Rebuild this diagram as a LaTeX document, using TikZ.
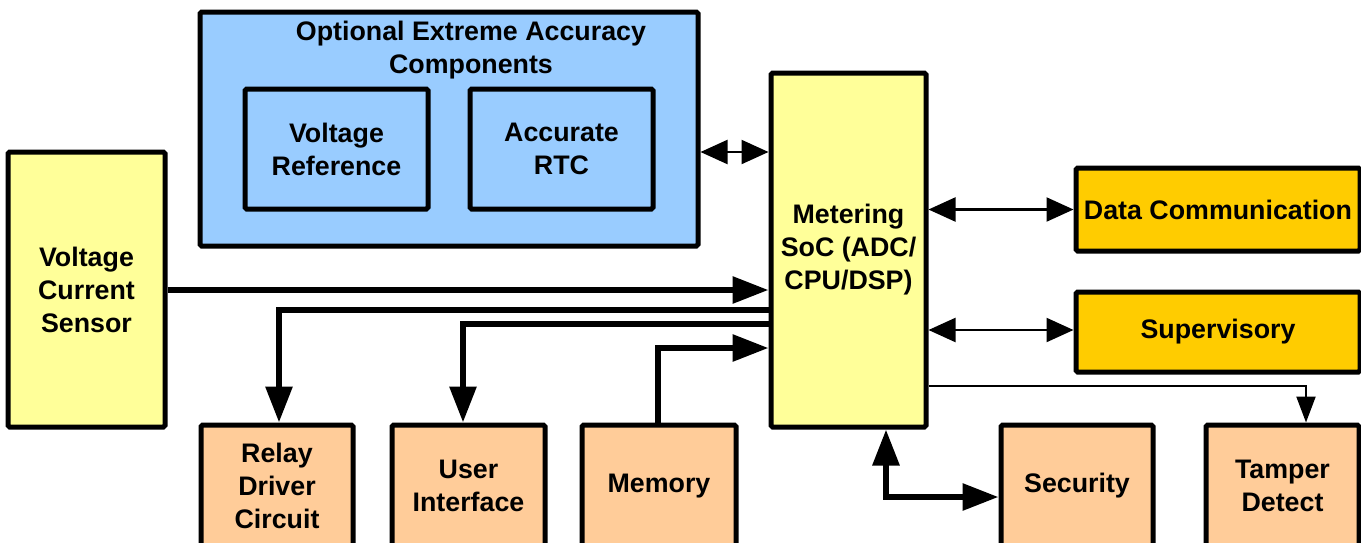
\documentclass[tikz,border=0pt]{standalone}
\usepackage{fontspec}
\setmainfont{Liberation Sans}
\usetikzlibrary{arrows.meta}
\definecolor{socyellow}{HTML}{FFFF99}
\definecolor{optblue}{HTML}{99CCFF}
\definecolor{commgold}{HTML}{FFCC00}
\definecolor{periph}{HTML}{FFCC99}
\begin{document}
\begin{tikzpicture}[x=0.5pt,y=-0.5pt,
  blk/.style={draw=black, line width=2.5pt, rounded corners=0.8pt, inner sep=1pt,
    align=center, font=\fontsize{13.4}{16.5}\selectfont\bfseries},
  bigtip/.style={line width=3pt, line join=miter},
  thinlink/.style={line width=1.1pt},
  headL/.tip={Triangle[length=18pt,width=13pt]},
  headM/.tip={Triangle[length=13.5pt,width=12pt]},
  headS/.tip={Triangle[length=13pt,width=9.5pt]}]
\clip (0,0) rectangle (1361,542);
% optional accuracy group
\node[blk, fill=optblue, minimum width=249pt, minimum height=117pt] (opt) at (449,129) {};
\node[font=\fontsize{13.4}{16.5}\selectfont\bfseries, align=center, inner sep=0pt] (optTitle) at (471,50.5)
  {Optional Extreme Accuracy\\Components};
\node[blk, fill=optblue, minimum width=91.5pt, minimum height=60pt] (vref) at (336.5,149) {Voltage\\Reference};
\node[blk, fill=optblue, minimum width=91.5pt, minimum height=60pt] (rtc) at (561.5,149) {Accurate\\RTC};
% main blocks
\node[blk, fill=socyellow, minimum width=78.5pt, minimum height=137.5pt] (sensor) at (86.5,289.5) {Voltage\\Current\\Sensor};
\node[blk, fill=socyellow, minimum width=77.5pt, minimum height=177pt] (soc) at (848.5,250) {Metering\\SoC (ADC/\\CPU/DSP)};
\node[blk, fill=commgold, minimum width=142pt, minimum height=41.5pt] (data) at (1218,209.5) {Data Communication};
\node[blk, fill=commgold, minimum width=142pt, minimum height=40pt] (sup) at (1218,332) {Supervisory};
% peripherals
\node[blk, fill=periph, minimum width=76pt, minimum height=61pt] (relay) at (277,486) {Relay\\Driver\\Circuit};
\node[blk, fill=periph, minimum width=76.5pt, minimum height=61pt] (ui) at (468.5,486) {User\\Interface};
\node[blk, fill=periph, minimum width=77pt, minimum height=61pt] (mem) at (659,486) {Memory};
\node[blk, fill=periph, minimum width=76pt, minimum height=61pt] (sec) at (1077,486) {Security};
\node[blk, fill=periph, minimum width=76.5pt, minimum height=61pt] (tamper) at (1282.5,486) {Tamper\\Detect};
% connectors
\draw[thinlink, headM-headM] (opt.east |- 0,152) -- (soc.west |- 0,152);
\draw[thinlink, headM-headM] (soc.east |- data.west) -- (data.west);
\draw[thinlink, headM-headM] (soc.east |- 0,330) -- (sup.west |- 0,330);
\draw[bigtip, -headL] (sensor.east |- 0,290) -- (soc.west |- 0,290);
\draw[bigtip, -headL] (soc.west |- 0,310) -| ([xshift=1pt]relay.north);
\draw[bigtip, -headL] (soc.west |- 0,324) -| ([xshift=-2.75pt]ui.north);
\draw[bigtip, -headL] ([xshift=-0.5pt]mem.north) |- (soc.west |- 0,348);
\draw[thinlink, -headS] (soc.east |- 0,386) -| ([xshift=11.75pt]tamper.north);
\draw[bigtip, headL-headL] ([xshift=18.75pt]soc.south) |- (sec.west |- 0,497);
\end{tikzpicture}
\end{document}
